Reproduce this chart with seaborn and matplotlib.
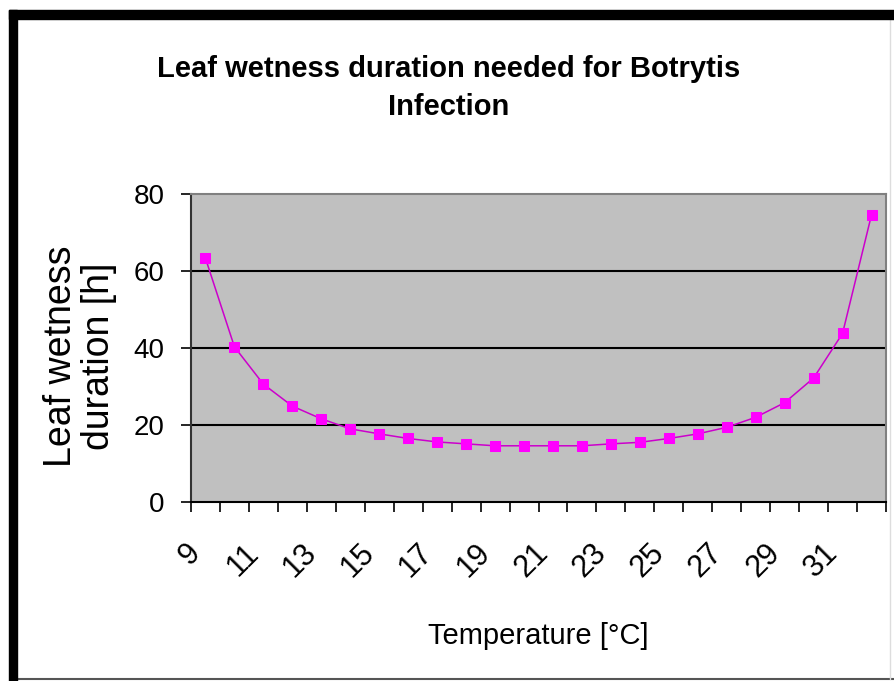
import matplotlib
matplotlib.use("Agg")
import matplotlib.pyplot as plt
import matplotlib.transforms as mtransforms
from matplotlib.patches import Rectangle
from matplotlib.lines import Line2D
import seaborn as sns
import pandas as pd

# Donnees
temperature = list(range(9, 33))
duree = [63.3, 40.3, 30.6, 24.9, 21.6, 19.0, 17.7, 16.5, 15.6, 15.1, 14.6, 14.6,
         14.6, 14.6, 15.1, 15.5, 16.5, 17.7, 19.4, 22.0, 25.8, 32.2, 43.8, 74.6]
etiquettes_x = [str(t) for t in range(9, 32, 2)]
graduations_y = [0, 20, 40, 60, 80]

df = pd.DataFrame({"temp": temperature, "duree": duree})

sns.set_style("white")
plt.rcParams["font.family"] = ["Liberation Sans", "DejaVu Sans"]
plt.rcParams["text.color"] = "black"
plt.rcParams["axes.labelcolor"] = "black"
plt.rcParams["xtick.color"] = "black"
plt.rcParams["ytick.color"] = "black"

fig = plt.figure(figsize=(8.95, 6.81), dpi=100)
W, H = 895, 681
ax = fig.add_axes([191 / W, 1 - 502 / H, 695 / W, 308 / H])
ax.set_facecolor("#c0c0c0")

# lignes horizontales
for v in graduations_y[1:-1]:
    ax.axhline(v, color="black", lw=1.5, zorder=1)

sns.lineplot(data=df, x="temp", y="duree", color="#cc00cc", lw=1.1,
             marker="s", markersize=6.5, markerfacecolor="#ff00ff",
             markeredgecolor="#ff00ff", ax=ax, zorder=3)

ax.set_xlim(temperature[0] - 0.5, temperature[-1] + 0.5)
ax.set_ylim(0, 80)
ax.set_yticks(graduations_y)
ax.set_yticklabels([str(v) for v in graduations_y], fontsize=20)
ax.tick_params(axis="y", direction="out", length=7, width=1.2, pad=12, color="black", left=True)

# graduations x : traits aux limites des categories, etiquettes une sur deux
ax.set_xticks([t - 0.5 for t in temperature] + [temperature[-1] + 0.5], minor=True)
ax.set_xticks([int(e) for e in etiquettes_x])
ax.set_xticklabels(etiquettes_x, fontsize=22, rotation=45, ha="right", va="top",
                   rotation_mode="anchor")
ax.tick_params(axis="x", which="minor", direction="out", length=7, width=1.2,
               color="black", bottom=True)
ax.tick_params(axis="x", which="major", length=0, pad=26)
decal = mtransforms.ScaledTranslation(-20 / 100, 0, fig.dpi_scale_trans)
for lab in ax.get_xticklabels():
    lab.set_transform(lab.get_transform() + decal)

for side in ["top", "right"]:
    ax.spines[side].set_color("#808080")
    ax.spines[side].set_linewidth(1.5)
ax.spines["left"].set_color("#333333")
ax.spines["left"].set_linewidth(1.5)
ax.spines["bottom"].set_color("black")
ax.spines["bottom"].set_linewidth(1.5)

ax.set_xlabel("Temperature [°C]", fontsize=21)
ax.xaxis.set_label_coords(0.5, (502 - 636) / 308)
ax.xaxis.label.set_va("center")
ax.set_ylabel("Leaf wetness\nduration [h]", fontsize=27, linespacing=1.05)
ax.yaxis.set_label_coords((80 - 191) / 695, (502 - 356) / 308)
ax.yaxis.label.set_va("center")

fig.text(449 / W, 1 - 88 / H, "Leaf wetness duration needed for Botrytis\nInfection",
         ha="center", va="center", fontsize=21, fontweight="bold", linespacing=1.45)

# cadre du graphique
fig.patches.append(Rectangle((9 / W, 1 - 19 / H), (W - 9) / W, 9 / H,
                             transform=fig.transFigure, color="black", zorder=5))
fig.patches.append(Rectangle((9 / W, 0), 8 / W, 1 - 10 / H,
                             transform=fig.transFigure, color="black", zorder=5))
fig.lines.append(Line2D([17 / W, 1], [1 - 679 / H] * 2, transform=fig.transFigure,
                        color="#555555", lw=1.5))
fig.lines.append(Line2D([890 / W] * 2, [1 - 679 / H, 1 - 19 / H], transform=fig.transFigure,
                        color="#dddddd", lw=1))

fig.savefig("out.png", dpi=100)
